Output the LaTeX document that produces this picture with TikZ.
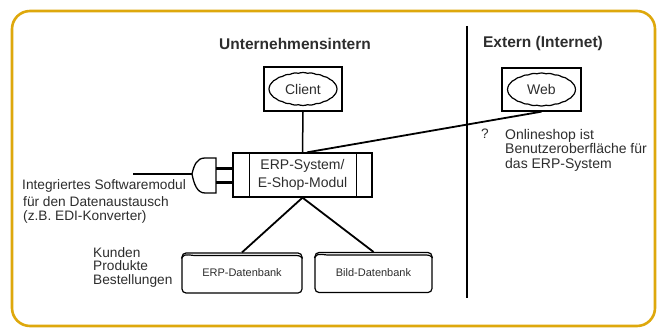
\documentclass[tikz,border=0pt]{standalone}
\usepackage{fontspec}
\setmainfont{Liberation Sans}
\usetikzlibrary{positioning,calc,shapes.symbols}
\definecolor{framegold}{RGB}{222,168,12}
\definecolor{txtgray}{RGB}{45,45,45}

\begin{document}
\begin{tikzpicture}[
  x=1pt, y=-1pt,
  head/.style={font=\fontsize{15.5}{18}\selectfont\bfseries, text=txtgray},
  lbl/.style={font=\fontsize{13.7}{13.5}\selectfont, text=txtgray, inner sep=0pt, align=left},
  box/.style={draw, line width=1.3pt, minimum width=78pt, minimum height=44pt, inner sep=0pt},
  blob/.style={cloud, cloud puffs=24, cloud puff arc=40, aspect=2, draw, line width=1.2pt,
    minimum width=68pt, minimum height=33pt, inner sep=0pt, text=txtgray,
    font=\fontsize{14}{14}\selectfont},
  dbank/.style={draw, line width=1.2pt, rounded corners=4pt, minimum height=40pt,
    inner sep=0pt, text=txtgray, font=\fontsize{11}{11}\selectfont},
  wire/.style={line width=1.8pt}
]
\useasboundingbox (0,0) rectangle (658,329);

% Frame
\draw[framegold, line width=2.6pt, rounded corners=18pt] (12,11) rectangle (655,326);

% Column titles and separator
\node[head] (intern) at (295,44) {Unternehmensintern};
\node[head] (extern) at (543,43) {Extern (Internet)};
\coordinate (sepTop) at (467,26);
\coordinate (sepBot) at (467,298);
\draw[line width=2.8pt] (sepTop) -- (sepBot);

% Client and Web
\node[box] (clientbox) at (303,89) {};
\node[blob] (client) at (clientbox) {Client};
\node[box, minimum width=79pt, minimum height=43pt] (webbox) at (541.5,89.5) {};
\node[blob] (web) at (webbox) {Web};

% ERP-System
\node[box, minimum width=139pt, minimum height=44pt, align=center, text=txtgray,
  font=\fontsize{14}{18.5}\selectfont] (erp) at (302.5,175) {ERP-System/\\E-Shop-Modul};
\draw[line width=1.3pt] ([xshift=17pt]erp.north west) -- ([xshift=17pt]erp.south west);
\draw[line width=1.3pt] ([xshift=-16pt]erp.north east) -- ([xshift=-16pt]erp.south east);

\draw[line width=1.5pt] (clientbox.south) -- (erp.north);
\draw[wire] (webbox.south) -- ([xshift=4.5pt]erp.north);

% Plug for data exchange
\coordinate (plugtip) at (192,174);
\coordinate (wireend) at (133,174);
\draw[line width=1.3pt] (wireend) -- (plugtip);
\draw[line width=1.3pt] (216,158) -- (205,158) .. controls (197,158) and (194,165) .. (plugtip)
  .. controls (194,184) and (197,193) .. (205,193) -- (216,193) -- cycle;
\draw[line width=3pt] (216,168) -- ([yshift=7pt]erp.west);
\draw[line width=3pt] (216,182) -- ([yshift=-7pt]erp.west);

\node[lbl, anchor=north west] (modtext) at (22,179)
  {Integriertes Softwaremodul\\[4pt]\hspace*{1pt}für den Datenaustausch\\\hspace*{1pt}(z.B. EDI-Konverter)};

% Databases
\node[dbank, minimum width=120pt] (erpdb) at (242,273) {ERP-Datenbank};
\node[dbank, minimum width=117pt] (bilddb) at (373.5,272.5) {Bild-Datenbank};
\foreach \d in {erpdb,bilddb}
  \draw[line width=1.2pt] ([yshift=-6pt]\d.north west) .. controls +(3,-4) .. ([shift={(12pt,-3pt)}]\d.north west)
    -- ([shift={(-12pt,-3pt)}]\d.north east) .. controls +(9,0) .. ([yshift=-6pt]\d.north east);
\draw[wire] (erp.south) -- (erpdb.north);
\draw[wire] (erp.south) -- (bilddb.north);

\node[lbl, anchor=north west] (tables) at (93,247) {Kunden\\Produkte\\Bestellungen};

% Note on the web shop
\node[lbl, anchor=north west] (qmark) at (481,129) {?};
\node[lbl, anchor=north west, font=\fontsize{14}{14.5}\selectfont] (shopnote) at (505,129)
  {Onlineshop ist\\Benutzeroberfläche für\\das ERP-System};

\end{tikzpicture}
\end{document}
